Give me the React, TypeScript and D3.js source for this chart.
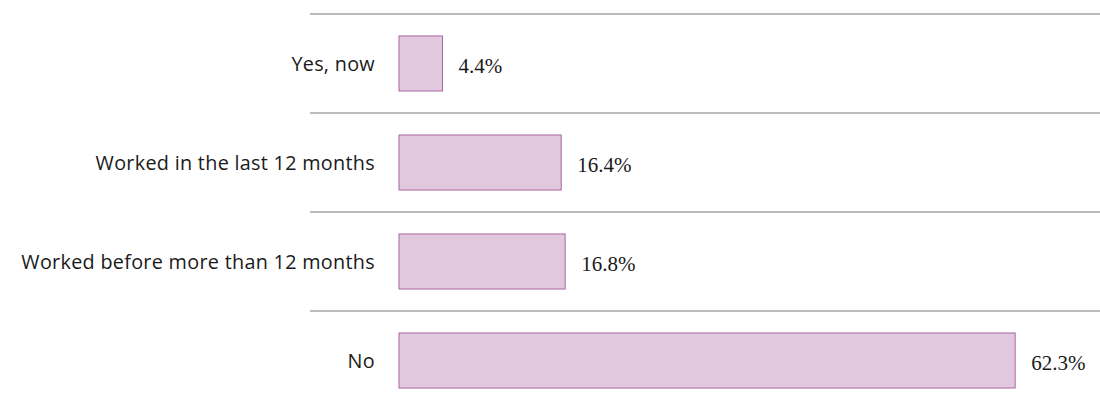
import React from "react";
import * as d3 from "d3";

const categories = [
  "Yes, now",
  "Worked in the last 12 months",
  "Worked before more than 12 months",
  "No",
];
const values = [4.4, 16.4, 16.8, 62.3];
const valueLabels = ["4.4%", "16.4%", "16.8%", "62.3%"];

const W = 1100;
const H = 405;

export default function App() {
  const y = d3
    .scaleBand<string>()
    .domain(categories)
    .range([14, 410])
    .paddingInner(0.444)
    .paddingOuter(0.222);
  const x = d3.scaleLinear().domain([0, 100]).range([399, 1388]);
  const step = y.step();
  const po = y.paddingOuter();

  return (
    <svg
      width={W}
      height={H}
      style={{ position: "absolute", left: 0, top: 0, display: "block" }}
    >
      <rect x={0} y={0} width={W} height={H} fill="#ffffff" />
      {categories.map((c, i) => {
        const top = (y(c) as number) - step * po;
        const by = y(c) as number;
        const bh = y.bandwidth();
        const cy = by + bh / 2;
        return (
          <g key={c}>
            <line
              x1={310}
              x2={W}
              y1={top}
              y2={top}
              stroke="#a6a6a6"
              strokeWidth={1.5}
            />
            <rect
              x={x(0)}
              y={by}
              width={x(values[i]) - x(0)}
              height={bh}
              fill="#e1c8df"
              stroke="#a866a2"
              strokeWidth={1}
            />
            <text
              x={375}
              y={cy}
              textAnchor="end"
              dominantBaseline="central"
              fontFamily="'Open Sans', sans-serif"
              fontSize={19.8}
              letterSpacing={0.3}
              fill="#1a1a1a"
            >
              {c}
            </text>
            <text
              x={x(values[i]) + 16}
              y={cy + 2}
              dominantBaseline="central"
              fontFamily="'Liberation Serif', serif"
              fontSize={21}
              fill="#1a1a1a"
            >
              {valueLabels[i]}
            </text>
          </g>
        );
      })}
    </svg>
  );
}
